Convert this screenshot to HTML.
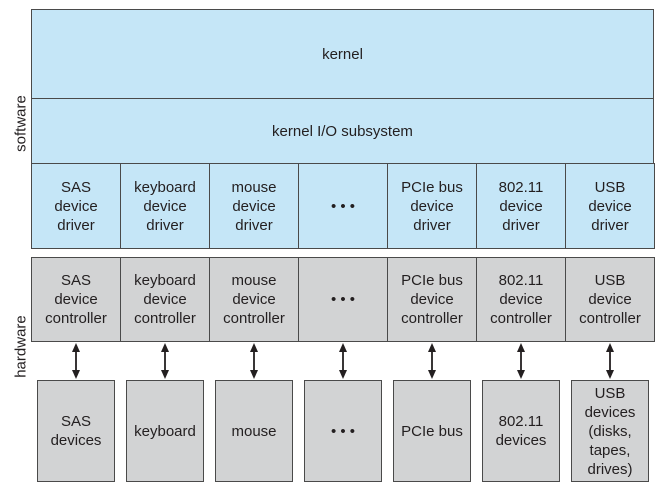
<!DOCTYPE html>
<html><head><style>
body{margin:0;width:661px;height:486px;background:#fff;position:relative;font-family:"Liberation Sans",sans-serif;color:#231f20;overflow:hidden}
.b{position:absolute;box-sizing:border-box;border:1.5px solid #4a4a4a;display:flex;align-items:center;justify-content:center;text-align:center;font-size:15px;line-height:19px}
.s{background:#c5e6f7}.h{background:#d2d3d4}
.lab{position:absolute;font-size:15px;transform:rotate(-90deg);transform-origin:center}
</style></head><body>
<div class="lab" style="left:-9px;top:115px;width:60px;text-align:center">software</div>
<div class="lab" style="left:-12px;top:338px;width:66px;text-align:center">hardware</div>
<div class="b s" style="left:31px;top:9px;width:623px;height:91px">kernel</div>
<div class="b s" style="left:31px;top:98px;width:623px;height:67px">kernel I/O subsystem</div>
<div id="c"></div>
<svg width="661" height="486" style="position:absolute;left:0;top:0" id="sv"></svg>
<script>
var xs=[31,120,209,298,387,476,565,654];
var drv=["SAS<br>device<br>driver","keyboard<br>device<br>driver","mouse<br>device<br>driver","• • •","PCIe bus<br>device<br>driver","802.11<br>device<br>driver","USB<br>device<br>driver"];
var ctl=["SAS<br>device<br>controller","keyboard<br>device<br>controller","mouse<br>device<br>controller","• • •","PCIe bus<br>device<br>controller","802.11<br>device<br>controller","USB<br>device<br>controller"];
var dev=["SAS<br>devices","keyboard","mouse","• • •","PCIe bus","802.11<br>devices","USB<br>devices<br>(disks,<br>tapes,<br>drives)"];
var h="",s="";
for(var i=0;i<7;i++){
 var x=xs[i],w=xs[i+1]-x+1;
 h+='<div class="b s" style="left:'+x+'px;top:163px;width:'+w+'px;height:86px">'+drv[i]+'</div>';
 h+='<div class="b h" style="left:'+x+'px;top:257px;width:'+w+'px;height:85px">'+ctl[i]+'</div>';
 h+='<div class="b h" style="left:'+(x+6)+'px;top:380px;width:78px;height:102px">'+dev[i]+'</div>';
 var cx=x+45;
 s+='<line x1="'+cx+'" y1="349" x2="'+cx+'" y2="373" stroke="#231f20" stroke-width="1.8"/>';
 s+='<polygon points="'+(cx-4)+',352 '+cx+',343 '+(cx+4)+',352" fill="#231f20"/>';
 s+='<polygon points="'+(cx-4)+',370 '+cx+',379 '+(cx+4)+',370" fill="#231f20"/>';
}
document.getElementById("c").innerHTML=h;
document.getElementById("sv").innerHTML=s;
</script>
</body></html>
